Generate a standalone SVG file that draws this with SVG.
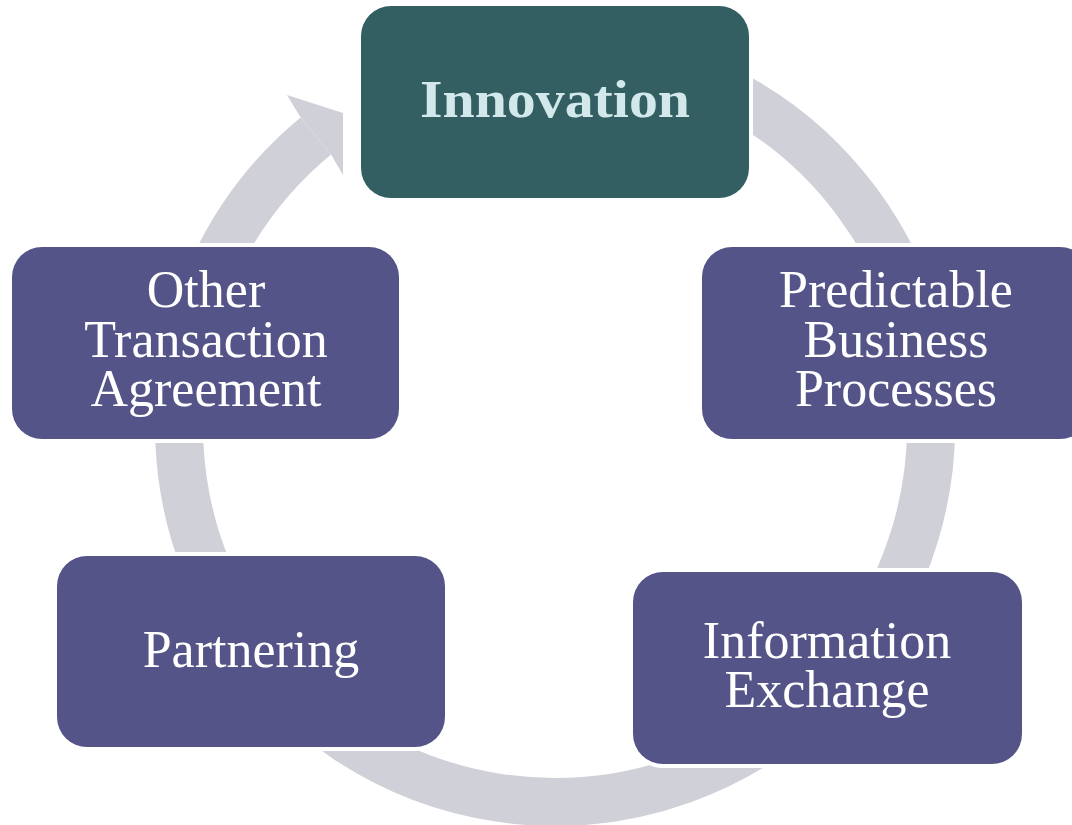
<svg xmlns="http://www.w3.org/2000/svg" width="1072" height="825" viewBox="0 0 1072 825">
  <style>
    .box { fill: #545488; stroke: #ffffff; stroke-width: 8; paint-order: stroke; }
    .box-main { fill: #335F63; stroke: #ffffff; stroke-width: 8; paint-order: stroke; }
    .lbl { font-family: "Liberation Serif", "Times New Roman", serif; font-size: 52px; fill: #ffffff; text-anchor: middle; }
    .lbl-main { font-family: "Liberation Serif", "Times New Roman", serif; font-size: 52px; font-weight: bold; fill: #D3E8EA; text-anchor: middle; }
    .ring { fill: none; stroke: #D0D0D9; stroke-width: 48; }
  </style>
  <rect width="1072" height="825" fill="#ffffff"/>
  <g id="connectors">
    <path class="ring" d="M 555 50 A 376 376 0 1 1 315.8 135.9"/>
    <polygon fill="#D0D0D9" points="300.6,117.4 287,95 343,113 343,175 331.1,154.4"/>
  </g>
  <g id="node-innovation">
    <rect class="box-main" x="361" y="6" width="388" height="192" rx="30" ry="30"/>
    <text class="lbl-main" x="555" y="117" textLength="270" lengthAdjust="spacingAndGlyphs">Innovation</text>
  </g>
  <g id="node-predictable">
    <rect class="box" x="702" y="247" width="388" height="192" rx="30" ry="30"/>
    <text class="lbl" x="896" y="307">Predictable</text>
    <text class="lbl" x="896" y="357">Business</text>
    <text class="lbl" x="896" y="406">Processes</text>
  </g>
  <g id="node-information">
    <rect class="box" x="633" y="572" width="389" height="192" rx="30" ry="30"/>
    <text class="lbl" x="827" y="658">Information</text>
    <text class="lbl" x="827" y="707">Exchange</text>
  </g>
  <g id="node-partnering">
    <rect class="box" x="57" y="556" width="388" height="191" rx="30" ry="30"/>
    <text class="lbl" x="251" y="667">Partnering</text>
  </g>
  <g id="node-other">
    <rect class="box" x="12" y="247" width="387" height="192" rx="30" ry="30"/>
    <text class="lbl" x="206" y="307">Other</text>
    <text class="lbl" x="206" y="357">Transaction</text>
    <text class="lbl" x="206" y="406">Agreement</text>
  </g>
</svg>
